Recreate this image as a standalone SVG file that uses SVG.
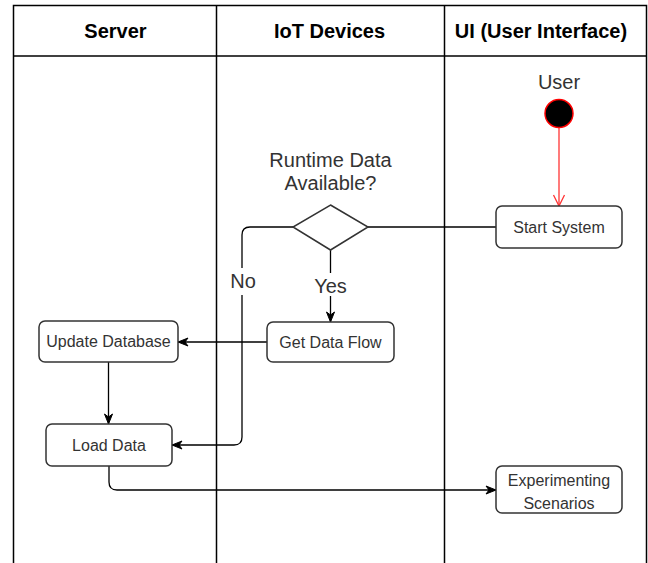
<svg xmlns="http://www.w3.org/2000/svg" width="648" height="563" viewBox="0 0 648 563">
<defs>
<style>
.lane{fill:none;stroke:#000;stroke-width:1.5}
.hdr{font-family:"Liberation Sans",Arial,sans-serif;font-size:20px;font-weight:bold;fill:#000;text-anchor:middle}
.box{fill:#fff;stroke:#333;stroke-width:1.5}
.lbl{font-family:"Liberation Sans",Arial,sans-serif;font-size:16px;fill:#333;text-anchor:middle}
.big{font-family:"Liberation Sans",Arial,sans-serif;font-size:20px;fill:#333;text-anchor:middle}
.edge{fill:none;stroke:#000;stroke-width:1.3}
</style>
<marker id="arr" markerUnits="userSpaceOnUse" markerWidth="12" markerHeight="10" viewBox="0 0 12 10" refX="11" refY="5" orient="auto">
<path d="M1,1 L11,5 L1,9 L4,5 Z" fill="#000" stroke="#000" stroke-width="1"/>
</marker>
<marker id="open" markerUnits="userSpaceOnUse" markerWidth="14" markerHeight="14" viewBox="0 0 14 14" refX="12" refY="7" orient="auto">
<path d="M1,1.5 L12,7 L1,12.5" fill="none" stroke="#ff3333" stroke-width="1.3"/>
</marker>
</defs>
<rect width="648" height="563" fill="#fff"/>
<g id="pool">
<path class="lane" d="M13.5,570 V5.5 H646.5 V570"/>
<path class="lane" d="M13.5,56 H646.5"/>
<path class="lane" d="M216.5,5.5 V570"/>
<path class="lane" d="M444.5,5.5 V570"/>
<text class="hdr" x="115.5" y="38">Server</text>
<text class="hdr" x="329.5" y="38">IoT Devices</text>
<text class="hdr" x="541" y="38">UI (User Interface)</text>
</g>
<g id="connectors">
<path class="edge" d="M559,128 V206" style="stroke:#ff3333" marker-end="url(#open)"/>
<path class="edge" d="M368,227 H496"/>
<path class="edge" d="M293,227 H250 Q242,227 242,235 V437 Q242,445 234,445 H172" marker-end="url(#arr)"/>
<path class="edge" d="M330.5,250 V322" marker-end="url(#arr)"/>
<path class="edge" d="M267,342 H178" marker-end="url(#arr)"/>
<path class="edge" d="M108.5,362 V424" marker-end="url(#arr)"/>
<path class="edge" d="M109,466 V482 Q109,490 117,490 H496" marker-end="url(#arr)"/>
<rect x="232" y="268" width="22" height="27" fill="#fff"/>
<text class="big" x="243" y="288">No</text>
<rect x="314" y="273" width="33" height="23" fill="#fff"/>
<text class="big" x="330.5" y="293">Yes</text>
</g>
<g id="user">
<circle cx="559" cy="113.5" r="14" fill="#000" stroke="#ff0000" stroke-width="1.5"/>
<text class="big" x="559" y="89">User</text>
</g>
<g id="start-system">
<rect class="box" x="496" y="206" width="126" height="42" rx="6"/>
<text class="lbl" x="559" y="232.5">Start System</text>
</g>
<g id="decision">
<path d="M330.5,205 L368,227 L330.5,250 L293,227 Z" fill="#fff" stroke="#333" stroke-width="1.5"/>
<text class="big" x="330.5" y="167">Runtime Data</text>
<text class="big" x="330.5" y="190">Available?</text>
</g>
<g id="get-data-flow">
<rect class="box" x="267" y="322" width="127" height="40" rx="6"/>
<text class="lbl" x="330.5" y="347.5">Get Data Flow</text>
</g>
<g id="update-database">
<rect class="box" x="39" y="321" width="139" height="41" rx="6"/>
<text class="lbl" x="108.5" y="347">Update Database</text>
</g>
<g id="load-data">
<rect class="box" x="46" y="424" width="126" height="42" rx="6"/>
<text class="lbl" x="109" y="450.5">Load Data</text>
</g>
<g id="experimenting-scenarios">
<rect class="box" x="496" y="466" width="126" height="47" rx="6"/>
<text class="lbl" x="559" y="486">Experimenting</text>
<text class="lbl" x="559" y="509">Scenarios</text>
</g>
</svg>
